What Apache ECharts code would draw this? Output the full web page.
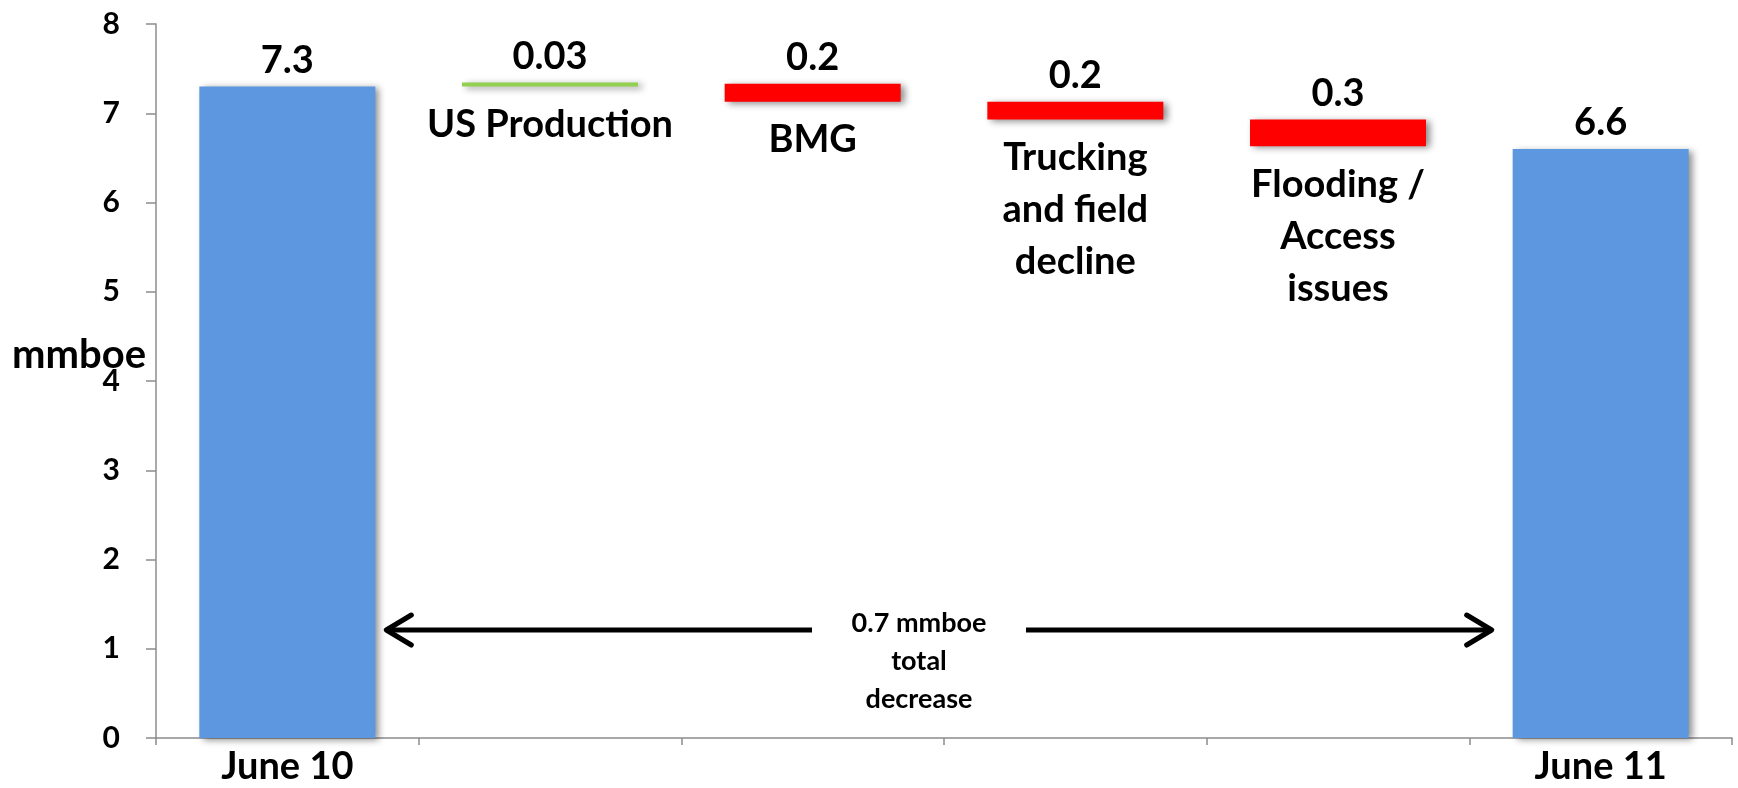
<!DOCTYPE html>
<html>
<head>
<meta charset="utf-8">
<script src="https://cdn.jsdelivr.net/npm/echarts@6/dist/echarts.min.js"></script>
<style>
  html, body { margin: 0; padding: 0; background: #ffffff; }
  #chart { width: 1738px; height: 788px; }
</style>
</head>
<body>
<div id="chart"></div>
<script>
// Production bridge: opening level, daily changes by cause, closing level (mmboe)
const categories = ['June 10', 'US Production', 'BMG', 'Trucking\nand field\ndecline', 'Flooding /\nAccess\nissues', 'June 11'];
const startValue = 7.3;
const changes = [0.03, -0.2, -0.2, -0.3];
const endValue = 6.6;
const yTicks = [0, 1, 2, 3, 4, 5, 6, 7, 8];
const yAxisTitle = 'mmboe';
const totalChangeText = '0.7 mmboe\ntotal\ndecrease';
const arrowLevel = 1.21;

const FONT = 'Lato, "Open Sans", sans-serif';
const BLUE = '#5D97DF';
const RED = '#FF0000';
const GREEN = '#92D050';

// Build the invisible base and visible segment of each waterfall step
const baseData = [0];
const stepData = [startValue];
const stepColors = [BLUE];
let running = startValue;
changes.forEach(function (c) {
  if (c >= 0) {
    baseData.push(running);
    running = +(running + c).toFixed(4);
    stepColors.push(GREEN);
  } else {
    running = +(running + c).toFixed(4);
    baseData.push(running);
    stepColors.push(RED);
  }
  stepData.push(Math.abs(c));
});
baseData.push(0);
stepData.push(endValue);
stepColors.push(BLUE);

const lastIndex = categories.length - 1;
const chart = echarts.init(document.getElementById('chart'));

const option = {
  backgroundColor: '#ffffff',
  animation: false,
  grid: { left: 156, right: 6, top: 24, bottom: 50, containLabel: false, outerBoundsMode: 'none' },
  xAxis: {
    type: 'category',
    data: categories,
    axisLine: { show: true, lineStyle: { color: '#8c8c8c', width: 1.5 } },
    axisTick: { show: true, length: 7, lineStyle: { color: '#8c8c8c', width: 1.5 } },
    axisLabel: {
      margin: 10,
      interval: 0,
      color: '#000000',
      fontFamily: FONT,
      fontWeight: 'bold',
      fontSize: 38,
      formatter: function (v, i) { return (i === 0 || i === lastIndex) ? v : ''; }
    },
    splitLine: { show: false }
  },
  yAxis: {
    type: 'value',
    min: yTicks[0],
    max: yTicks[yTicks.length - 1],
    interval: 1,
    axisLine: { show: true, lineStyle: { color: '#8c8c8c', width: 1.5 } },
    axisTick: { show: true, length: 10, lineStyle: { color: '#8c8c8c', width: 1.5 } },
    axisLabel: {
      margin: 36,
      color: '#000000',
      fontFamily: FONT,
      fontWeight: 'bold',
      fontSize: 30
    },
    splitLine: { show: false }
  },
  series: [
    {
      name: 'base',
      type: 'bar',
      stack: 'bridge',
      barWidth: '67%',
      silent: true,
      itemStyle: { color: 'rgba(0,0,0,0)' },
      label: {
        show: true,
        position: 'insideTop',
        distance: 12,
        color: '#000000',
        fontFamily: FONT,
        fontWeight: 'bold',
        fontSize: 38,
        lineHeight: 52,
        align: 'center',
        formatter: function (p) {
          return (p.dataIndex === 0 || p.dataIndex === lastIndex) ? '' : categories[p.dataIndex];
        }
      },
      data: baseData
    },
    {
      name: 'step',
      type: 'bar',
      stack: 'bridge',
      barWidth: '67%',
      barMinHeight: 4,
      label: {
        show: true,
        position: 'top',
        distance: 7,
        color: '#000000',
        fontFamily: FONT,
        fontWeight: 'bold',
        fontSize: 38,
        formatter: function (p) { return String(p.value); }
      },
      data: stepData.map(function (v, i) {
        return {
          value: v,
          itemStyle: {
            color: stepColors[i],
            shadowColor: 'rgba(0,0,0,0.45)',
            shadowBlur: 7,
            shadowOffsetX: 4,
            shadowOffsetY: 2
          }
        };
      })
    }
  ]
};

chart.setOption(option);

// Axis title plus the double-headed arrow between the opening and closing bars
function drawAnnotations() {
  const p0 = chart.convertToPixel({ xAxisIndex: 0, yAxisIndex: 0 }, [0, arrowLevel]);
  const p1 = chart.convertToPixel({ xAxisIndex: 0, yAxisIndex: 0 }, [1, arrowLevel]);
  const pN = chart.convertToPixel({ xAxisIndex: 0, yAxisIndex: 0 }, [lastIndex, arrowLevel]);
  const mid = chart.convertToPixel({ xAxisIndex: 0, yAxisIndex: 0 }, [0, (yTicks[0] + yTicks[yTicks.length - 1]) / 2]);
  const axisX = chart.getModel().getComponent('grid').coordinateSystem.getRect().x;
  const step = p1[0] - p0[0];
  const halfBar = step * 0.67 / 2;
  const y = p0[1];
  const leftTip = p0[0] + halfBar + 11;
  const rightTip = pN[0] - halfBar - 21;
  const textX = (leftTip + rightTip) / 2 - 20;
  const halfGap = 107;
  const headLen = 25, headSpread = 15;
  const stroke = { stroke: '#000000', lineWidth: 5, lineCap: 'round', lineJoin: 'round', fill: null };

  chart.setOption({
    graphic: [
      {
        type: 'text', z: 10, x: axisX - 10, y: mid[1] - 26,
        style: {
          text: yAxisTitle, fill: '#000000', font: 'bold 40px ' + FONT,
          align: 'right', verticalAlign: 'middle'
        }
      },
      { type: 'line', z: 10, shape: { x1: leftTip + 2, y1: y, x2: textX - halfGap, y2: y }, style: Object.assign({}, stroke, { lineCap: 'butt' }) },
      { type: 'line', z: 10, shape: { x1: textX + halfGap, y1: y, x2: rightTip - 2, y2: y }, style: Object.assign({}, stroke, { lineCap: 'butt' }) },
      { type: 'polyline', z: 10, shape: { points: [[leftTip + headLen, y - headSpread], [leftTip, y], [leftTip + headLen, y + headSpread]] }, style: stroke },
      { type: 'polyline', z: 10, shape: { points: [[rightTip - headLen, y - headSpread], [rightTip, y], [rightTip - headLen, y + headSpread]] }, style: stroke },
      {
        type: 'text', z: 10, x: textX, y: y + 31,
        style: {
          text: totalChangeText,
          fill: '#000000',
          font: 'bold 27px ' + FONT,
          lineHeight: 38,
          align: 'center',
          verticalAlign: 'middle'
        }
      }
    ]
  });
}
drawAnnotations();
</script>
</body>
</html>
